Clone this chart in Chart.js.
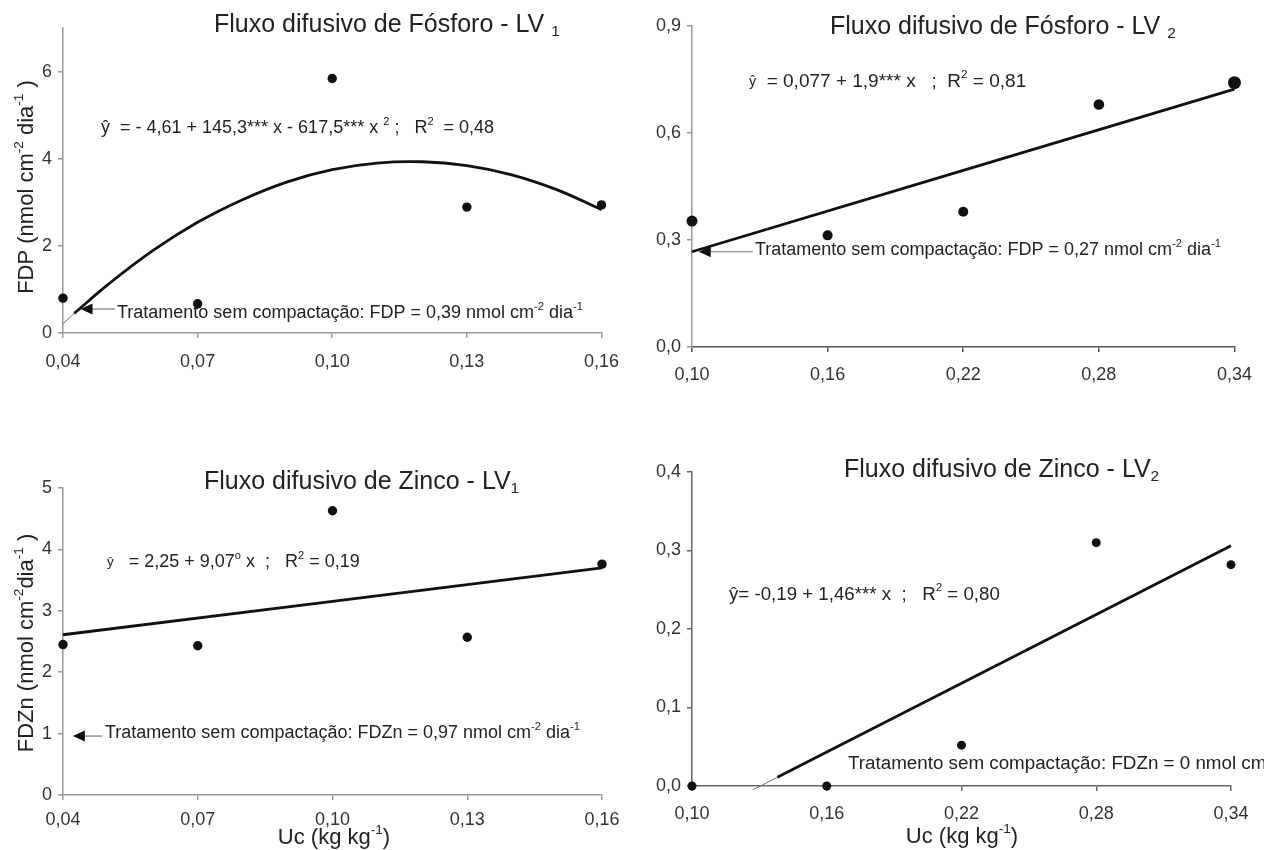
<!DOCTYPE html>
<html>
<head>
<meta charset="utf-8">
<script src="https://cdn.jsdelivr.net/npm/chart.js@4.4.1/dist/chart.umd.min.js"></script>
<style>
  html, body { margin: 0; padding: 0; background: #fff; }
  #page { position: relative; width: 1264px; height: 850px; overflow: hidden; }
  .panel { position: absolute; }
</style>
</head>
<body>
<div id="page">
  <div class="panel" style="left:0;top:0"><canvas id="c1" width="632" height="400"></canvas></div>
  <div class="panel" style="left:632px;top:0"><canvas id="c2" width="632" height="400"></canvas></div>
  <div class="panel" style="left:0;top:400px"><canvas id="c3" width="632" height="450"></canvas></div>
  <div class="panel" style="left:632px;top:400px"><canvas id="c4" width="632" height="450"></canvas></div>
</div>
<script>
// ---- data ----
const ucLV1 = [0.04, 0.07, 0.10, 0.13, 0.16];
const ucLV2 = [0.10, 0.16, 0.22, 0.28, 0.34];
const ucLabelsLV1 = ['0,04', '0,07', '0,10', '0,13', '0,16'];
const ucLabelsLV2 = ['0,10', '0,16', '0,22', '0,28', '0,34'];

// Fósforo LV1
const fdpLV1 = [0.80, 0.67, 5.84, 2.89, 2.94];
const fitXfdpLV1 = [0.0425, 0.05, 0.06, 0.07, 0.08, 0.09, 0.10, 0.11, 0.12, 0.13, 0.14, 0.15, 0.16];
const fitYfdpLV1 = [0.45, 1.11, 1.89, 2.54, 3.06, 3.47, 3.75, 3.90, 3.93, 3.84, 3.63, 3.29, 2.83];
const tailXfdpLV1 = [0.04, 0.0425];
const tailYfdpLV1 = [0.21, 0.45];
const yTicksFdpLV1 = [0, 2, 4, 6];
const yLabelsFdpLV1 = ['0', '2', '4', '6'];

// Fósforo LV2
const fdpLV2 = [0.353, 0.313, 0.379, 0.680, 0.741];
const fitXfdpLV2 = [0.10, 0.34];
const fitYfdpLV2 = [0.267, 0.723];
const yTicksFdpLV2 = [0, 0.3, 0.6, 0.9];
const yLabelsFdpLV2 = ['0,0', '0,3', '0,6', '0,9'];

// Zinco LV1
const fdznLV1 = [2.45, 2.43, 4.63, 2.57, 3.76];
const fitXfdznLV1 = [0.04, 0.16];
const fitYfdznLV1 = [2.61, 3.70];
const yTicksFdznLV1 = [0, 1, 2, 3, 4, 5];
const yLabelsFdznLV1 = ['0', '1', '2', '3', '4', '5'];

// Zinco LV2
const fdznLV2 = [0.0, 0.0, 0.052, 0.310, 0.282];
const fitXfdznLV2 = [0.138, 0.34];
const fitYfdznLV2 = [0.011, 0.306];
const tailXfdznLV2 = [0.127, 0.138];
const tailYfdznLV2 = [-0.005, 0.011];
const yTicksFdznLV2 = [0, 0.1, 0.2, 0.3, 0.4];
const yLabelsFdznLV2 = ['0,0', '0,1', '0,2', '0,3', '0,4'];

// treatment without compaction (arrow tip)
const arrowFdpLV1 = { x: 0.0439, y: 0.55 };
const arrowFdpLV2 = { x: 0.103, y: 0.267 };
const arrowFdznLV1 = { x: 0.0422, y: 0.96 };

// ---- style ----
const FONT = '"Liberation Sans", Arial, Helvetica, sans-serif';
const TEXT = '#222';
Chart.defaults.font.family = FONT;
Chart.defaults.color = '#333';

const pairs = (xs, ys) => xs.map((x, i) => ({ x, y: ys[i] }));

// draws text pieces (normal / sup / sub / small) left to right, returns width
function drawRich(ctx, parts, x, y, size) {
  ctx.textBaseline = 'middle';
  ctx.textAlign = 'left';
  let cx = x;
  parts.forEach(([t, kind]) => {
    let s = size, dy = 0;
    if (kind === 'sup') { s = size * 0.62; dy = -size * 0.36; }
    if (kind === 'sub') { s = size * 0.62; dy = size * 0.28; }
    if (kind === 'small') { s = size * 0.75; }
    ctx.font = `${s}px ${FONT}`;
    ctx.fillText(t, cx, y + dy);
    cx += ctx.measureText(t).width;
  });
  return cx - x;
}

function measureCtx(ctx) {
  return {
    set font(f) { ctx.font = f; },
    set textBaseline(v) {},
    set textAlign(v) {},
    fillText() {},
    measureText: (t) => ctx.measureText(t)
  };
}

function richWidth(ctx, parts, size) {
  ctx.save();
  const w = drawRich(measureCtx(ctx), parts, 0, 0, size);
  ctx.restore();
  return w;
}

const sup = (t) => [t, 'sup'];
const sub = (t) => [t, 'sub'];

const NOTES = {
  c1: {
    texts: [
      { parts: [['Fluxo difusivo de Fósforo - LV '], sub('1')], x: 214, y: 25, size: 25 },
      { parts: [['ŷ  = - 4,61 + 145,3*** x - 617,5*** x '], sup('2'), [' ;   R'], sup('2'), ['  = 0,48']], x: 101, y: 128, size: 18 },
      { parts: [['Tratamento sem compactação: FDP = 0,39 nmol cm'], sup('-2'), [' dia'], sup('-1')], x: 117, y: 313, size: 18 },
      { parts: [['FDP (nmol cm'], sup('-2'), [' dia'], sup('-1'), [' )']], x: 27, y: 187, size: 22, rotate: true }
    ],
    arrow: { ...arrowFdpLV1, to: 115 }
  },
  c2: {
    texts: [
      { parts: [['Fluxo difusivo de Fósforo - LV '], sub('2')], x: 198, y: 27, size: 25 },
      { parts: [['ŷ', 'small'], ['  = 0,077 + 1,9*** x   ;  R'], sup('2'), [' = 0,81']], x: 117, y: 82, size: 19 },
      { parts: [['Tratamento sem compactação: FDP = 0,27 nmol cm'], sup('-2'), [' dia'], sup('-1')], x: 123, y: 250, size: 18 }
    ],
    arrow: { ...arrowFdpLV2, to: 121 }
  },
  c3: {
    texts: [
      { parts: [['Fluxo difusivo de Zinco - LV'], sub('1')], x: 204, y: 82, size: 25 },
      { parts: [['ŷ', 'small'], ['   = 2,25 + 9,07'], sup('o'), [' x  ;   R'], sup('2'), [' = 0,19']], x: 107, y: 162, size: 18 },
      { parts: [['Tratamento sem compactação: FDZn = 0,97 nmol cm'], sup('-2'), [' dia'], sup('-1')], x: 105, y: 333, size: 18 },
      { parts: [['FDZn (nmol cm'], sup('-2'), ['dia'], sup('-1'), [' )']], x: 27, y: 243, size: 22, rotate: true },
      { parts: [['Uc (kg kg'], sup('-1'), [')']], x: 334, y: 438, size: 22, center: true }
    ],
    arrow: { ...arrowFdznLV1, to: 102 }
  },
  c4: {
    texts: [
      { parts: [['Fluxo difusivo de Zinco - LV'], sub('2')], x: 212, y: 70, size: 25 },
      { parts: [['ŷ= -0,19 + 1,46*** x  ;   R'], sup('2'), [' = 0,80']], x: 97, y: 195, size: 18.7 },
      { parts: [['Tratamento sem compactação: FDZn = 0 nmol cm'], sup('-2'), [' dia'], sup('-1')], x: 216, y: 364, size: 18.8 },
      { parts: [['Uc (kg kg'], sup('-1'), [')']], x: 330, y: 437, size: 22, center: true }
    ]
  }
};

const notesPlugin = {
  id: 'notes',
  afterDraw(chart) {
    const notes = NOTES[chart.canvas.id];
    const ctx = chart.ctx;
    ctx.save();
    ctx.fillStyle = TEXT;
    notes.texts.forEach((n) => {
      if (n.rotate || n.center) {
        const w = richWidth(ctx, n.parts, n.size);
        ctx.save();
        ctx.translate(n.x, n.y);
        if (n.rotate) ctx.rotate(-Math.PI / 2);
        drawRich(ctx, n.parts, -w / 2, 0, n.size);
        ctx.restore();
      } else {
        drawRich(ctx, n.parts, n.x, n.y, n.size);
      }
    });
    if (notes.arrow) {
      const tx = chart.scales.x.getPixelForValue(notes.arrow.x);
      const ty = chart.scales.y.getPixelForValue(notes.arrow.y);
      ctx.strokeStyle = '#777';
      ctx.lineWidth = 1.2;
      ctx.beginPath();
      ctx.moveTo(tx + 11, ty);
      ctx.lineTo(notes.arrow.to, ty);
      ctx.stroke();
      ctx.fillStyle = '#111';
      ctx.beginPath();
      ctx.moveTo(tx, ty);
      ctx.lineTo(tx + 12, ty - 5.5);
      ctx.lineTo(tx + 12, ty + 5.5);
      ctx.closePath();
      ctx.fill();
    }
    ctx.restore();
  }
};

function axis(min, max, ticks, labels, color, fitKey, fitSize, pad) {
  return {
    type: 'linear',
    min, max,
    afterBuildTicks: (s) => { s.ticks = ticks.map((v) => ({ value: v })); },
    afterFit: (s) => { s[fitKey] = fitSize; },
    ticks: {
      callback: (v, i) => labels[i],
      font: { size: 18 },
      color: '#333',
      padding: pad
    },
    grid: { drawOnChartArea: false, drawTicks: true, tickLength: 5, color, lineWidth: 1.5 },
    border: { display: true, color, width: 1.5 }
  };
}

function panel(id, p) {
  const datasets = [
    {
      type: 'scatter',
      data: pairs(p.xs, p.ys),
      backgroundColor: '#111',
      borderWidth: 0,
      pointRadius: p.radius,
      clip: false
    },
    {
      type: 'line',
      data: pairs(p.fitX, p.fitY),
      borderColor: '#111',
      borderWidth: 2.8,
      pointRadius: 0,
      tension: 0.4,
      fill: false,
      clip: false
    }
  ];
  if (p.tailX) {
    datasets.push({
      type: 'line',
      data: pairs(p.tailX, p.tailY),
      borderColor: '#777',
      borderWidth: 1,
      pointRadius: 0,
      fill: false,
      clip: false
    });
  }
  return new Chart(document.getElementById(id), {
    type: 'scatter',
    data: { datasets },
    options: {
      responsive: false,
      animation: false,
      events: [],
      layout: { padding: { left: 0, top: p.padTop, right: p.padRight, bottom: 0 } },
      plugins: { legend: { display: false }, tooltip: { enabled: false } },
      scales: {
        x: axis(p.xTicks[0], p.xTicks[p.xTicks.length - 1], p.xTicks, p.xLabels, p.xColor, 'height', p.xHeight, p.xPad),
        y: axis(p.yMin, p.yMax, p.yTicks, p.yLabels, p.yColor, 'width', p.yWidth, 6)
      }
    },
    plugins: [notesPlugin]
  });
}

panel('c1', {
  xs: ucLV1, ys: fdpLV1, radius: 4.7,
  fitX: fitXfdpLV1, fitY: fitYfdpLV1, tailX: tailXfdpLV1, tailY: tailYfdpLV1,
  xTicks: ucLV1, xLabels: ucLabelsLV1,
  yMin: 0, yMax: 7, yTicks: yTicksFdpLV1, yLabels: yLabelsFdpLV1,
  xColor: '#999', yColor: '#999',
  padTop: 28, padRight: 30, xHeight: 67, yWidth: 63, xPad: 13
});

panel('c2', {
  xs: ucLV2, ys: fdpLV2, radius: [5.5, 5, 5, 5.3, 6.5],
  fitX: fitXfdpLV2, fitY: fitYfdpLV2,
  xTicks: ucLV2, xLabels: ucLabelsLV2,
  yMin: 0, yMax: 0.9, yTicks: yTicksFdpLV2, yLabels: yLabelsFdpLV2,
  xColor: '#555', yColor: '#999',
  padTop: 26, padRight: 20, xHeight: 53, yWidth: 60, xPad: 12
});

panel('c3', {
  xs: ucLV1, ys: fdznLV1, radius: 4.7,
  fitX: fitXfdznLV1, fitY: fitYfdznLV1,
  xTicks: ucLV1, xLabels: ucLabelsLV1,
  yMin: 0, yMax: 5, yTicks: yTicksFdznLV1, yLabels: yLabelsFdznLV1,
  xColor: '#999', yColor: '#999',
  padTop: 88, padRight: 30, xHeight: 55, yWidth: 63, xPad: 9
});

panel('c4', {
  xs: ucLV2, ys: fdznLV2, radius: 4.5,
  fitX: fitXfdznLV2, fitY: fitYfdznLV2, tailX: tailXfdznLV2, tailY: tailYfdznLV2,
  xTicks: ucLV2, xLabels: ucLabelsLV2,
  yMin: 0, yMax: 0.4, yTicks: yTicksFdznLV2, yLabels: yLabelsFdznLV2,
  xColor: '#666', yColor: '#666',
  padTop: 72, padRight: 33, xHeight: 64, yWidth: 60, xPad: 12
});
</script>
</body>
</html>
